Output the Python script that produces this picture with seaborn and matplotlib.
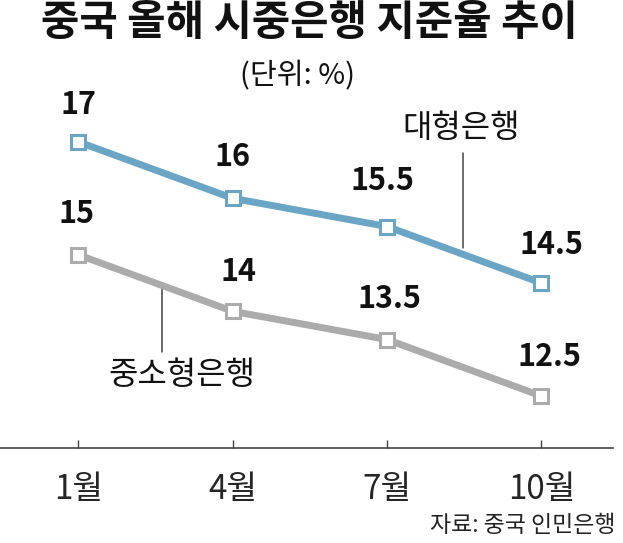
import matplotlib
matplotlib.use("Agg")
import matplotlib.pyplot as plt
import seaborn as sns
import pandas as pd

months = [1, 4, 7, 10]
month_labels = ["1월", "4월", "7월", "10월"]
large_banks = [17, 16, 15.5, 14.5]
small_banks = [15, 14, 13.5, 12.5]
series_names = ["대형은행", "중소형은행"]

sns.set_theme(style="white")
FAM = ["Noto Sans CJK KR", "DejaVu Sans"]
plt.rcParams["font.family"] = FAM

df = pd.DataFrame({
    "month": months * 2,
    "rate": large_banks + small_banks,
    "series": [series_names[0]] * 4 + [series_names[1]] * 4,
})
colors = {series_names[0]: "#6BA5C6", series_names[1]: "#ABABAB"}

fig = plt.figure(figsize=(6.23, 5.43), dpi=100)
ax = fig.add_axes([0, 95 / 543, 613 / 623, (448 - 100) / 543])

sns.lineplot(data=df, x="month", y="rate", hue="series", palette=colors,
             marker="s", markersize=10, markerfacecolor="white",
             markeredgewidth=2.2, linewidth=5, legend=False, ax=ax, zorder=3)
for line in ax.lines:
    line.set_markeredgecolor(line.get_color())
    line.set_solid_capstyle("butt")

ax.set_xlim(-0.52, 11.39)
ax.set_ylim(11.58, 17.74)
ax.set_xticks(months)
ax.set_xticklabels(month_labels, fontsize=24)
ax.set_yticks([])
ax.set_xlabel("")
ax.set_ylabel("")
for s in ["left", "top", "right"]:
    ax.spines[s].set_visible(False)
ax.spines["bottom"].set_color("#444444")
ax.spines["bottom"].set_linewidth(1.2)
ax.tick_params(axis="x", direction="in", length=6, width=1, color="#444444",
               pad=17, bottom=True)

# value labels
large_off = [(0, 0.66), (0, 0.73), (-0.08, 0.80), (0.2, 0.67)]
small_off = [(-0.04, 0.73), (0.12, 0.69), (0.04, 0.71), (0.16, 0.69)]
for m, v, (dx, dy) in zip(months, large_banks, large_off):
    ax.text(m + dx, v + dy, f"{v:g}", ha="center", va="center", fontsize=22,
            fontweight="bold", color="#111111")
for m, v, (dx, dy) in zip(months, small_banks, small_off):
    ax.text(m + dx, v + dy, f"{v:g}", ha="center", va="center", fontsize=22,
            fontweight="bold", color="#111111")

# series name labels with leader lines
ax.text(8.44, 17.25, series_names[0], ha="center", va="center", fontsize=23,
        color="#111111")
ax.plot([8.48, 8.48], [16.81, 15.12], color="#444444", lw=1.1, zorder=1)
ax.text(3.02, 12.88, series_names[1], ha="center", va="center", fontsize=23,
        color="#111111")
ax.plot([2.63, 2.63], [14.42, 13.28], color="#444444", lw=1.1, zorder=1)

fig.text(0.496, 0.958, "중국 올해 시중은행 지준율 추이", ha="center", va="center",
         fontsize=30, fontweight="bold", color="#111111")
fig.text(0.477, 0.860, "(단위: %)", ha="center", va="center", fontsize=21,
         color="#111111")
fig.text(0.988, 0.033, "자료: 중국 인민은행", ha="right", va="center",
         fontsize=16.5, color="#222222")

fig.savefig("out.png", dpi=100)
